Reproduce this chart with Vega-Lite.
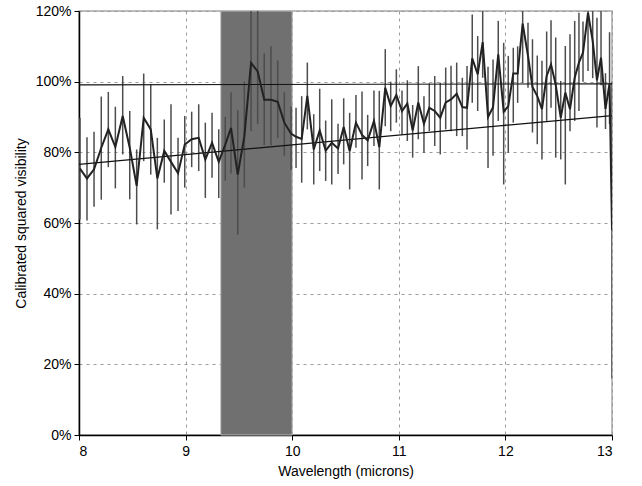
{
  "$schema": "https://vega.github.io/schema/vega-lite/v6.json",
  "width": 533,
  "height": 424,
  "autosize": "none",
  "padding": {"left": 79, "top": 11, "right": 30, "bottom": 51},
  "background": "white",
  "config": {
    "font": "Liberation Sans",
    "view": {"stroke": "#a8a8a8", "strokeWidth": 1.5},
    "axis": {
      "labelFont": "Liberation Sans",
      "titleFont": "Liberation Sans",
      "labelFontSize": 14,
      "titleFontSize": 14,
      "titleFontWeight": "normal",
      "labelColor": "black",
      "titleColor": "black",
      "domainColor": "black",
      "domainWidth": 1.5,
      "tickColor": "black",
      "tickSize": 5,
      "gridColor": "#9a9a9a",
      "gridDash": [3, 4],
      "gridWidth": 1
    }
  },
  "datasets": {
    "band": [{"x1": 9.33, "x2": 10.0, "y1": 0, "y2": 120}],
    "fits": [
      {"fit": "flat", "w": 8, "v": 99.1},
      {"fit": "flat", "w": 13, "v": 99.4},
      {"fit": "slope", "w": 8, "v": 76.6},
      {"fit": "slope", "w": 13, "v": 90.4}
    ],
    "obs": [
      {"w": 8.009, "v": 75.4, "lo": 61, "hi": 89.8},
      {"w": 8.075, "v": 72.6, "lo": 60.7, "hi": 84.3},
      {"w": 8.141, "v": 75.2, "lo": 64.6, "hi": 85.8},
      {"w": 8.209, "v": 81.3, "lo": 66.6, "hi": 95.8},
      {"w": 8.275, "v": 86.5, "lo": 75.8, "hi": 97.1},
      {"w": 8.341, "v": 81.5, "lo": 69.8, "hi": 92.9},
      {"w": 8.41, "v": 90.3, "lo": 79.4, "hi": 101.6},
      {"w": 8.476, "v": 81.3, "lo": 66.7, "hi": 91.7},
      {"w": 8.541, "v": 70.5, "lo": 59.6, "hi": 80.8},
      {"w": 8.607, "v": 89.8, "lo": 77.5, "hi": 102.3},
      {"w": 8.673, "v": 86.5, "lo": 73.7, "hi": 99.3},
      {"w": 8.735, "v": 72.6, "lo": 58.2, "hi": 84.1},
      {"w": 8.8, "v": 80.4, "lo": 71.4, "hi": 89.3},
      {"w": 8.863, "v": 77.3, "lo": 62.4, "hi": 93.6},
      {"w": 8.929, "v": 74.1, "lo": 63.4, "hi": 84.1},
      {"w": 8.992, "v": 82.2, "lo": 70.0, "hi": 90.3},
      {"w": 9.057, "v": 83.7, "lo": 75.8, "hi": 91.5},
      {"w": 9.123, "v": 84.1, "lo": 74.7, "hi": 93.6},
      {"w": 9.185, "v": 78.0, "lo": 67.1, "hi": 88.4},
      {"w": 9.248, "v": 82.7, "lo": 72.8, "hi": 91.2},
      {"w": 9.311, "v": 77.3, "lo": 67.1, "hi": 86.5},
      {"w": 9.372, "v": 82.2, "lo": 72, "hi": 90},
      {"w": 9.426, "v": 86.9, "lo": 74, "hi": 97},
      {"w": 9.489, "v": 73.7, "lo": 56.7, "hi": 92},
      {"w": 9.551, "v": 84.5, "lo": 70, "hi": 100},
      {"w": 9.614, "v": 105.3, "lo": 86, "hi": 120},
      {"w": 9.676, "v": 102.9, "lo": 88, "hi": 120},
      {"w": 9.738, "v": 94.9, "lo": 82, "hi": 108},
      {"w": 9.801, "v": 94.9, "lo": 82, "hi": 110},
      {"w": 9.864, "v": 94.3, "lo": 84, "hi": 106},
      {"w": 9.926, "v": 88.4, "lo": 79, "hi": 97},
      {"w": 9.989, "v": 85.3, "lo": 75, "hi": 93},
      {"w": 10.036, "v": 84.4, "lo": 75.6, "hi": 92.6},
      {"w": 10.089, "v": 83.8, "lo": 71.4, "hi": 95.9},
      {"w": 10.142, "v": 96.0, "lo": 86.5, "hi": 105.4},
      {"w": 10.202, "v": 80.8, "lo": 70.9, "hi": 90.8},
      {"w": 10.258, "v": 86.2, "lo": 74.7, "hi": 98},
      {"w": 10.314, "v": 80.5, "lo": 71.9, "hi": 89},
      {"w": 10.371, "v": 82.7, "lo": 70.9, "hi": 95},
      {"w": 10.43, "v": 81.1, "lo": 73.9, "hi": 88.1},
      {"w": 10.483, "v": 87.2, "lo": 76.6, "hi": 95.3},
      {"w": 10.539, "v": 80.4, "lo": 69.5, "hi": 91.2},
      {"w": 10.598, "v": 88.4, "lo": 81.3, "hi": 96.2},
      {"w": 10.655, "v": 84.9, "lo": 72.3, "hi": 97.2},
      {"w": 10.708, "v": 83.4, "lo": 76.1, "hi": 90.6},
      {"w": 10.767, "v": 88.9, "lo": 81.8, "hi": 97.5},
      {"w": 10.817, "v": 81.5, "lo": 69.5, "hi": 97.4},
      {"w": 10.873, "v": 98.3, "lo": 87.4, "hi": 109.2},
      {"w": 10.924, "v": 93.1, "lo": 86, "hi": 100},
      {"w": 10.977, "v": 96.2, "lo": 88.4, "hi": 103.5},
      {"w": 11.03, "v": 91.7, "lo": 85, "hi": 97.5},
      {"w": 11.08, "v": 93.8, "lo": 83.2, "hi": 100.4},
      {"w": 11.13, "v": 86.2, "lo": 78.5, "hi": 93.4},
      {"w": 11.183, "v": 94.1, "lo": 83.7, "hi": 104.4},
      {"w": 11.236, "v": 88.1, "lo": 79.9, "hi": 95.9},
      {"w": 11.286, "v": 92.6, "lo": 86, "hi": 99.5},
      {"w": 11.337, "v": 91.7, "lo": 81.8, "hi": 101.6},
      {"w": 11.389, "v": 89.8, "lo": 79.4, "hi": 99.7},
      {"w": 11.44, "v": 94.1, "lo": 86.5, "hi": 104},
      {"w": 11.49, "v": 95.0, "lo": 86, "hi": 104.5},
      {"w": 11.543, "v": 96.6, "lo": 84.6, "hi": 105.4},
      {"w": 11.596, "v": 92.8, "lo": 84.6, "hi": 101.1},
      {"w": 11.64, "v": 92.6, "lo": 80.8, "hi": 104.4},
      {"w": 11.689, "v": 106.6, "lo": 94, "hi": 119},
      {"w": 11.74, "v": 102.1, "lo": 91.7, "hi": 112.9},
      {"w": 11.787, "v": 111.2, "lo": 101.1, "hi": 120},
      {"w": 11.837, "v": 90.0, "lo": 75.6, "hi": 104.2},
      {"w": 11.884, "v": 92.8, "lo": 79, "hi": 106.3},
      {"w": 11.933, "v": 107.7, "lo": 88.9, "hi": 117.2},
      {"w": 11.984, "v": 91.5, "lo": 70.9, "hi": 111},
      {"w": 12.027, "v": 93.1, "lo": 79.9, "hi": 107.3},
      {"w": 12.074, "v": 102.3, "lo": 88.4, "hi": 109.6},
      {"w": 12.115, "v": 102.3, "lo": 94, "hi": 110},
      {"w": 12.162, "v": 116.4, "lo": 99.7, "hi": 120},
      {"w": 12.212, "v": 107.3, "lo": 98.3, "hi": 116.7},
      {"w": 12.254, "v": 98.5, "lo": 85.6, "hi": 112},
      {"w": 12.299, "v": 95.9, "lo": 82.3, "hi": 107.4},
      {"w": 12.343, "v": 92.2, "lo": 78, "hi": 105.9},
      {"w": 12.387, "v": 101.6, "lo": 88.9, "hi": 114.2},
      {"w": 12.428, "v": 104.9, "lo": 92.6, "hi": 117.4},
      {"w": 12.472, "v": 99.1, "lo": 78.5, "hi": 112.5},
      {"w": 12.519, "v": 89.8, "lo": 78, "hi": 100.2},
      {"w": 12.562, "v": 96.9, "lo": 70.9, "hi": 110.1},
      {"w": 12.606, "v": 92.2, "lo": 86, "hi": 113.4},
      {"w": 12.65, "v": 101.1, "lo": 88.9, "hi": 117.2},
      {"w": 12.69, "v": 105.4, "lo": 91.7, "hi": 119.5},
      {"w": 12.728, "v": 108.2, "lo": 100, "hi": 117},
      {"w": 12.775, "v": 119.5, "lo": 103, "hi": 120},
      {"w": 12.819, "v": 111.5, "lo": 101, "hi": 120},
      {"w": 12.859, "v": 100.4, "lo": 87, "hi": 118.1},
      {"w": 12.897, "v": 106.8, "lo": 99, "hi": 120},
      {"w": 12.939, "v": 92.3, "lo": 86.6, "hi": 102.4},
      {"w": 12.977, "v": 99.5, "lo": 88, "hi": 114},
      {"w": 13.0, "v": 58, "lo": 16, "hi": 100}
    ]
  },
  "layer": [
    {
      "data": {"name": "band"},
      "mark": {"type": "rect", "fill": "#707070", "stroke": "#bbbbbb", "strokeWidth": 1},
      "encoding": {
        "x": {
          "field": "x1", "type": "quantitative",
          "scale": {"domain": [8, 13], "nice": false, "zero": false},
          "axis": {
            "values": [8, 9, 10, 11, 12, 13],
            "format": "d",
            "title": "Wavelength (microns)",
            "labelPadding": 4,
            "titlePadding": 6,
            "grid": true
          }
        },
        "x2": {"field": "x2"},
        "y": {
          "field": "y1", "type": "quantitative",
          "scale": {"domain": [0, 120], "nice": false},
          "axis": {
            "values": [0, 20, 40, 60, 80, 100, 120],
            "labelExpr": "datum.value + '%'",
            "title": "Calibrated squared visibility",
            "labelPadding": 3,
            "titlePadding": 7,
            "grid": true
          }
        },
        "y2": {"field": "y2"}
      }
    },
    {
      "data": {"name": "obs"},
      "mark": {"type": "rule", "color": "#4d4d4d", "strokeWidth": 1.5, "clip": true},
      "encoding": {
        "x": {"field": "w", "type": "quantitative"},
        "y": {"field": "lo", "type": "quantitative"},
        "y2": {"field": "hi"}
      }
    },
    {
      "data": {"name": "fits"},
      "mark": {"type": "line", "color": "#111111", "strokeWidth": 1.2},
      "encoding": {
        "x": {"field": "w", "type": "quantitative"},
        "y": {"field": "v", "type": "quantitative"},
        "detail": {"field": "fit"}
      }
    },
    {
      "data": {"name": "obs"},
      "mark": {"type": "line", "color": "#222222", "strokeWidth": 2, "clip": true},
      "encoding": {
        "x": {"field": "w", "type": "quantitative"},
        "y": {"field": "v", "type": "quantitative"}
      }
    }
  ]
}
